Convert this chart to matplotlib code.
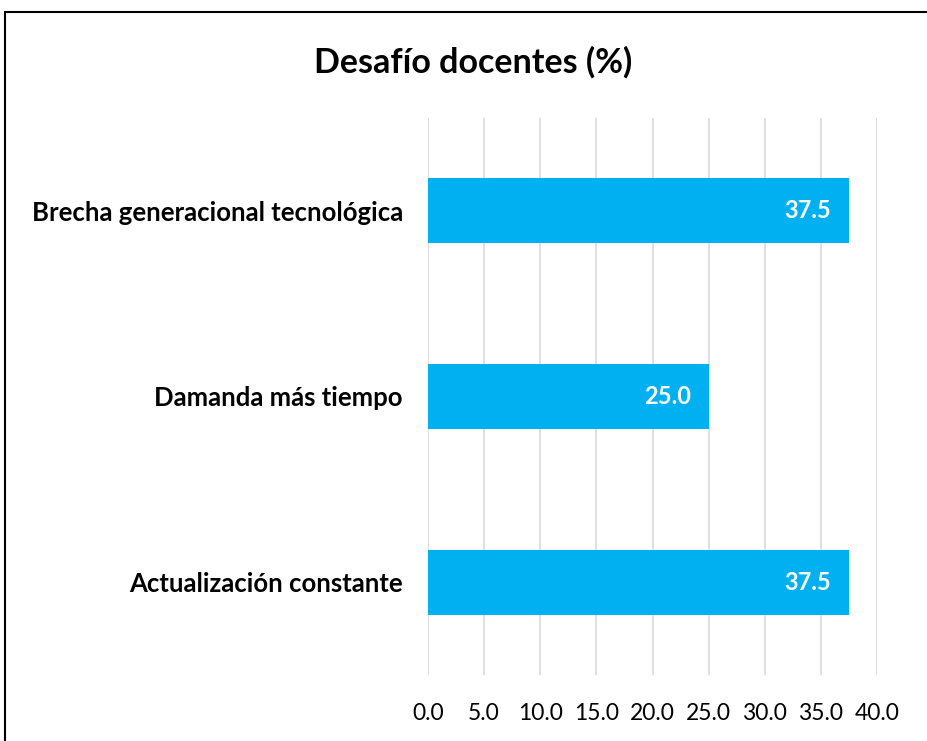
import matplotlib.pyplot as plt
from matplotlib.patches import Rectangle

categories = ['Actualización constante', 'Damanda más tiempo', 'Brecha generacional tecnológica']
values = [37.5, 25.0, 37.5]
xticks = [0, 5, 10, 15, 20, 25, 30, 35, 40]

plt.rcParams['font.family'] = ['Lato', 'DejaVu Sans']

fig = plt.figure(figsize=(9.28, 7.41), dpi=100)
ax = fig.add_axes([428/928, 1-675/741, (877-428)/928, (675-118)/741])

ypos = list(range(len(categories)))
bars = ax.barh(ypos, values, height=0.35, color='#00b0f0', zorder=2)

for y, v in zip(ypos, values):
    ax.text(v - 1.6, y, f'{v:.1f}', ha='right', va='center', color='white',
            fontsize=17, fontweight='bold', zorder=3)

ax.set_xlim(0, 40)
ax.set_ylim(-0.5, 2.5)
ax.set_xticks(xticks)
ax.set_xticklabels([f'{t:.1f}' for t in xticks], fontsize=16.5)
ax.set_yticks(ypos)
ax.set_yticklabels(categories, fontsize=18.5, fontweight='bold')
ax.tick_params(length=0)
ax.tick_params(axis='x', pad=20)
ax.tick_params(axis='y', pad=18)
ax.grid(axis='x', color='#d9d9d9', lw=1.2, zorder=0)
for s in ax.spines.values():
    s.set_visible(False)

fig.text(473/928, 1-62/741, 'Desafío docentes (%)', ha='center', va='center',
         fontsize=24.5, fontweight='bold')

fig.patches.append(Rectangle((5/928, -0.1), 1.2, 1-12/741+0.1, transform=fig.transFigure,
                             fill=False, edgecolor='black', lw=1.5))

fig.savefig('out.png', dpi=100)
